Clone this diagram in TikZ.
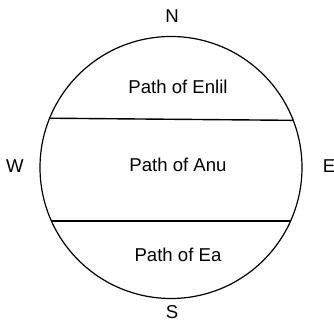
\documentclass[tikz,border=0pt]{standalone}
\usepackage{fontspec}
\setmainfont{Liberation Sans}
\usetikzlibrary{positioning}

\begin{document}
\begin{tikzpicture}[
    x=0.5pt, y=-0.5pt,
    sky/.style={draw, circle, minimum size=131pt, inner sep=0pt, line width=0.6pt},
    band/.style={line width=0.7pt},
    path label/.style={font=\fontsize{9.3}{11}\selectfont},
    compass/.style={font=\fontsize{9.3}{11}\selectfont}
]
\useasboundingbox (0,0) rectangle (334,326);

% Sky circle
\node[sky] (sky) at (171,167.5) {};

% Band limits
\draw[band] (sky.158.5) -- (sky.21.5);
\draw[band] (sky.-156) -- (sky.-24);

% Paths
\node[path label] (enlil) at (178,87) {Path of Enlil};
\node[path label] (anu) at (178,165) {Path of Anu};
\node[path label] (ea) at (178,255) {Path of Ea};

% Directions
\node[compass] (north) at (172,16) {N};
\node[compass] (south) at (172,312) {S};
\node[compass] (west) at (15,166) {W};
\node[compass] (east) at (329,166) {E};
\end{tikzpicture}
\end{document}
